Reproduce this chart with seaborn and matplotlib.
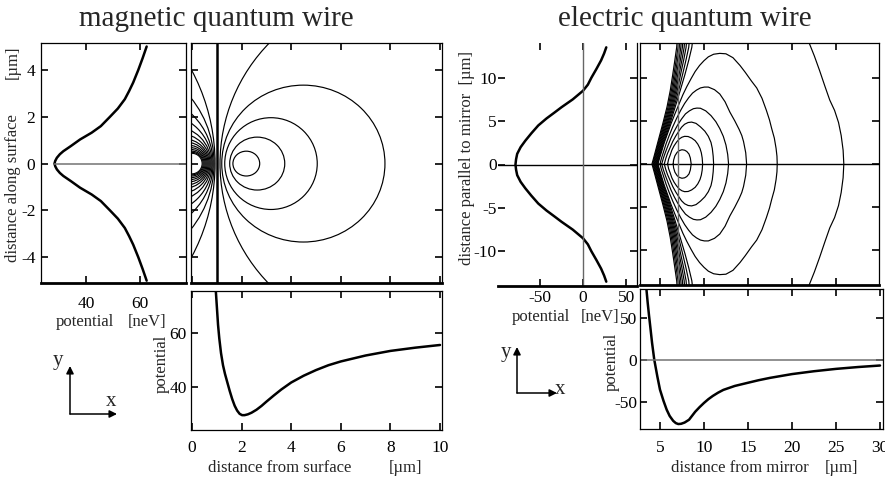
import numpy as np
import matplotlib
matplotlib.use("Agg")
import matplotlib.pyplot as plt
from matplotlib.patches import Ellipse, FancyArrowPatch
import seaborn as sns

# ---------------- data ----------------
# magnetic quantum wire: potential [neV] along the surface (through the minimum)
MAG_PROF_Y = [-5.0, -4.5, -4.0, -3.46, -3.1, -2.75, -2.35, -2.0, -1.6, -1.32, -1.03,
              -0.75, -0.53, -0.4, -0.25, -0.12, 0.0, 0.12, 0.25, 0.4, 0.53, 0.75,
              1.03, 1.32, 1.6, 2.0, 2.35, 2.75, 3.1, 3.46, 4.0, 4.5, 5.0]
MAG_PROF_V = [62.5, 61.0, 59.4, 57.5, 56.0, 54.4, 51.8, 48.9, 45.5, 42.1, 37.8,
              34.4, 31.6, 30.3, 29.2, 28.6, 28.3, 28.6, 29.2, 30.3, 31.6, 34.4,
              37.8, 42.1, 45.5, 48.9, 51.8, 54.4, 56.0, 57.5, 59.4, 61.0, 62.5]
# magnetic quantum wire: potential [neV] vs distance from surface [um]
MAG_X = [0.95, 1.0, 1.05, 1.1, 1.17, 1.25, 1.33, 1.42, 1.52, 1.62, 1.72, 1.82, 1.92,
         2.02, 2.12, 2.25, 2.4, 2.6, 2.8, 3.0, 3.3, 3.6, 4.0, 4.5, 5.0, 5.5, 6.0,
         7.0, 8.0, 9.0, 10.0]
MAG_V = [77.0, 70.0, 63.0, 58.0, 52.5, 48.0, 44.8, 41.8, 38.5, 35.5, 33.0, 31.2, 30.0,
         29.5, 29.5, 29.8, 30.4, 31.5, 32.9, 34.5, 36.8, 39.0, 41.6, 44.1, 46.2, 48.0,
         49.4, 51.6, 53.3, 54.5, 55.5]
# magnetic contour map
MC_WIRE_X = 1.0
MC_RING_XL = [1.65, 1.52, 1.32, 1.20]
MC_RING_XR = [2.73, 3.74, 5.05, 7.78]
MC_RING_HALF = [0.53, 1.13, 1.96, 3.35]
# open arcs: crossing of y=0 and one more point on the arc
MC_ARC_X0 = [1.13, 0.93, 0.89, 0.85, 0.81, 0.77, 0.73, 0.69, 0.65, 0.61, 0.57, 0.53,
             0.49, 0.45, 0.41]
MC_ARC_X1 = [3.01, 0.0, 0.0, 0.0, 0.0, 0.0, 0.0, 0.0, 0.0, 0.0, 0.0, 0.0,
             0.0, 0.0, 0.0]
MC_ARC_Y1 = [5.03, 3.96, 2.75, 2.10, 1.70, 1.39, 1.17, 1.00, 0.88, 0.77, 0.68, 0.60,
             0.53, 0.48, 0.44]

# electric quantum wire: potential [neV] along the mirror (through the minimum)
EL_Y = [-13.5, -12.8, -12.0, -11.0, -10.0, -9.2, -8.5, -7.5, -6.6, -6.0, -5.3, -4.5,
        -3.6, -2.75, -2.0, -1.23, -0.6, 0.0, 0.6, 1.23, 2.0, 2.75, 3.6, 4.5, 5.3,
        6.0, 6.6, 7.5, 8.5, 9.2, 10.0, 11.0, 12.0, 12.8, 13.5]
EL_V = [27.0, 24.5, 21.0, 15.5, 9.7, 5.6, 0.0, -12.0, -25.0, -33.0, -42.5, -52.0,
        -60.0, -67.0, -72.5, -76.5, -77.8, -78.5, -77.8, -76.5, -72.5, -67.0, -60.0,
        -52.0, -42.5, -33.0, -25.0, -12.0, 0.0, 5.6, 9.7, 15.5, 21.0, 24.5, 27.0]
# electric quantum wire: potential [neV] vs distance from mirror [um]
EB_X = [3.45, 3.6, 3.75, 3.9, 4.1, 4.35, 4.7, 5.0, 5.4, 5.76, 6.1, 6.5, 6.8, 7.08,
        7.4, 7.8, 8.3, 9.0, 9.5, 10.0, 10.5, 11.0, 11.6, 12.2, 13.5, 15.0, 16.2,
        17.5, 20.0, 22.5, 25.0, 27.5, 30.0]
EB_V = [85.0, 68.0, 53.0, 39.0, 20.0, 0.0, -20.0, -35.7, -49.0, -59.5, -67.0, -72.8,
        -75.5, -76.6, -76.3, -74.8, -71.5, -62.0, -56.5, -51.5, -47.0, -43.2, -39.3,
        -36.0, -31.3, -27.5, -24.5, -21.7, -17.2, -13.8, -11.0, -8.8, -7.0]
# electric contour map: upper halves (the map is symmetric about y = 0)
EC_CLOSED_X = [
    [6.5, 6.55, 6.7, 6.95, 7.2, 7.5, 7.8, 8.05, 8.3, 8.45, 8.55],
    [5.87, 5.98, 6.15, 6.35, 6.6, 6.9, 7.2, 7.5, 7.8, 8.2, 8.6, 9.0, 9.3, 9.55, 9.7,
     9.8, 9.85],
    [5.49, 5.65, 5.85, 6.15, 6.45, 6.8, 7.15, 7.45, 7.8, 8.2, 8.6, 9.1, 9.6, 10.1,
     10.5, 10.8, 10.95, 11.05, 11.1],
    [5.2, 5.38, 5.6, 5.9, 6.25, 6.6, 7.0, 7.45, 7.9, 8.35, 8.8, 9.2, 9.6, 10.2, 10.8,
     11.35, 11.8, 12.2, 12.5, 12.7, 12.8],
    [5.0, 5.18, 5.4, 5.7, 6.05, 6.45, 6.9, 7.35, 7.8, 8.25, 8.7, 9.15, 9.6, 10.05,
     10.5, 11.2, 11.8, 12.4, 12.95, 13.5, 14.0, 14.3, 14.5, 14.75, 14.85],
    [4.77, 4.97, 5.2, 5.5, 5.85, 6.25, 6.7, 7.15, 7.6, 8.05, 8.55, 9.0, 9.5, 10.0,
     10.5, 11.1, 11.8, 12.5, 13.3, 14.1, 14.7, 15.4, 16.0, 16.6, 17.1, 17.45, 17.7,
     18.0, 18.2, 18.3, 18.33],
]
EC_CLOSED_Y = [
    [0.0, 0.45, 0.95, 1.35, 1.55, 1.65, 1.6, 1.45, 1.15, 0.7, 0.0],
    [0.0, 0.55, 1.0, 1.6, 2.1, 2.55, 2.9, 3.1, 3.2, 3.18, 3.0, 2.7, 2.3, 1.8, 1.3,
     0.7, 0.0],
    [0.0, 0.6, 1.2, 1.9, 2.6, 3.25, 3.8, 4.25, 4.6, 4.8, 4.85, 4.7, 4.3, 3.8, 3.2,
     2.5, 1.8, 0.9, 0.0],
    [0.0, 0.65, 1.3, 2.1, 3.0, 3.75, 4.5, 5.2, 5.8, 6.15, 6.4, 6.47, 6.45, 6.15, 5.6,
     4.9, 4.1, 3.2, 2.2, 1.1, 0.0],
    [0.0, 0.7, 1.4, 2.35, 3.3, 4.3, 5.3, 6.2, 7.0, 7.65, 8.2, 8.55, 8.8, 8.9, 8.9,
     8.6, 8.1, 7.2, 6.0, 5.0, 4.0, 3.3, 2.6, 1.3, 0.0],
    [0.0, 0.75, 1.5, 2.5, 3.5, 4.65, 5.8, 6.9, 8.0, 8.95, 9.9, 10.7, 11.4, 11.95,
     12.4, 12.7, 12.8, 12.75, 12.3, 11.4, 10.6, 9.6, 8.8, 7.6, 6.2, 5.1, 4.1, 3.0,
     1.8, 0.9, 0.0],
]
EC_OPEN_Y = [0.0, 1.0, 2.0, 3.3, 4.7, 6.6, 8.5, 10.4, 12.0, 13.5, 14.2]
EC_OPEN_X = [
    [4.09, 4.36, 4.62, 4.96, 5.33, 5.80, 6.17, 6.46, 6.69, 6.90, 6.95],
    [4.18, 4.44, 4.70, 5.05, 5.43, 5.92, 6.30, 6.60, 6.84, 7.05, 7.10],
    [4.26, 4.52, 4.78, 5.14, 5.53, 6.04, 6.43, 6.74, 6.99, 7.20, 7.25],
    [4.34, 4.60, 4.86, 5.23, 5.63, 6.15, 6.56, 6.88, 7.15, 7.37, 7.42],
    [4.42, 4.68, 4.94, 5.32, 5.73, 6.26, 6.69, 7.03, 7.31, 7.55, 7.60],
    [4.50, 4.76, 5.02, 5.41, 5.83, 6.37, 6.82, 7.18, 7.49, 7.75, 7.80],
    [4.57, 4.84, 5.10, 5.50, 5.93, 6.48, 6.96, 7.35, 7.69, 7.97, 8.02],
    [4.64, 4.91, 5.18, 5.60, 6.04, 6.60, 7.12, 7.58, 7.95, 8.27, 8.33],
    [4.71, 4.99, 5.27, 5.70, 6.15, 6.73, 7.30, 7.85, 8.27, 8.62, 8.70],
]
EC_ARC_X = [25.9, 25.82, 25.6, 25.3, 24.85, 24.3, 23.75, 23.15, 22.55, 22.0, 21.9]
EC_ARC_Y = [0.0, 1.6, 3.3, 4.8, 6.2, 7.4, 9.0, 10.8, 12.5, 13.9, 14.2]

# ---------------- figure ----------------
sns.set_style("ticks")
plt.rcParams['font.family'] = ['Liberation Serif', 'DejaVu Serif']
plt.rcParams['axes.unicode_minus'] = False

W, H = 885, 484
fig = plt.figure(figsize=(W / 100, H / 100), dpi=100)


def box(x0, y0, x1, y1):
    return fig.add_axes([x0 / W, 1 - y1 / H, (x1 - x0) / W, (y1 - y0) / H])


def style(ax, xlim, ylim, xt, yt, lab_x, lab_y, padx=4, pady=3, bottom_lw=0.9):
    ax.set_xlim(*xlim)
    ax.set_ylim(*ylim)
    ax.set_xticks(xt)
    ax.set_yticks(yt)
    ax.tick_params(direction='in', top=True, right=True, bottom=True, left=True,
                   length=5, width=1.2, labelsize=12.5, colors='k')
    ax.tick_params(axis='x', pad=padx, labelbottom=lab_x)
    ax.tick_params(axis='y', pad=pady, labelleft=lab_y)
    for s in ax.spines.values():
        s.set_color('k')
        s.set_linewidth(0.9)
    ax.spines['bottom'].set_linewidth(bottom_lw)
    ax.set_xlabel('')
    ax.set_ylabel('')


def ftext(x, y, s, size=12, rot=0, **kw):
    fig.text(x / W, 1 - y / H, s, ha='center', va='center', fontsize=size,
             rotation=rot, **kw)


def px_ratio(ax):
    pos = ax.get_position()
    x0, x1 = ax.get_xlim()
    y0, y1 = ax.get_ylim()
    return (pos.height * H / (y1 - y0)) / (pos.width * W / (x1 - x0))


def mirrored_closed(hx, hy):
    return hx + hx[-2::-1], hy + [-v for v in hy[-2::-1]]


def mirrored_open(hx, hy):
    return hx[::-1] + hx[1:], hy[::-1] + [-v for v in hy[1:]]


ax_ml = box(41, 43, 186, 283)
ax_mc = box(191, 43, 442, 283)
ax_mb = box(191, 291, 442, 430)
ax_el = box(498, 43, 637, 286)
ax_ec = box(640, 43, 879, 285)
ax_eb = box(640, 289, 883, 429)

LW_C = 0.85

# --- magnetic: profile along surface
sns.lineplot(x=MAG_PROF_V, y=MAG_PROF_Y, sort=False, estimator=None, color='k',
             lw=1.8, ax=ax_ml)
style(ax_ml, (23.3, 77.1), (-5.1, 5.15), [40, 60], [-4, -2, 0, 2, 4], True, True,
      padx=9, pady=4, bottom_lw=2.0)
ax_ml.hlines(0, min(MAG_PROF_V), ax_ml.get_xlim()[1], color='0.45', lw=1.1)

# --- magnetic: contour map
style(ax_mc, (-0.04, 10.08), (-5.1, 5.15), [0, 2, 4, 6, 8, 10], [-4, -2, 0, 2, 4],
      False, False, bottom_lw=2.0)
ax_mc.axvline(MC_WIRE_X, color='k', lw=1.8)
for xl, xr, h in zip(MC_RING_XL, MC_RING_XR, MC_RING_HALF):
    ax_mc.add_patch(Ellipse(((xl + xr) / 2, 0), xr - xl, 2 * h, fill=False,
                            ec='k', lw=LW_C))
q = px_ratio(ax_mc)
for x0, x1, y1 in zip(MC_ARC_X0, MC_ARC_X1, MC_ARC_Y1):
    yq = y1 * q
    cx = (x1 ** 2 + yq ** 2 - x0 ** 2) / (2 * (x1 - x0))
    r = abs(x0 - cx)
    ax_mc.add_patch(Ellipse((cx, 0), 2 * r, 2 * r / q, fill=False, ec='k', lw=LW_C))

# --- magnetic: potential vs distance from surface
sns.lineplot(x=MAG_X, y=MAG_V, sort=False, estimator=None, color='k', lw=1.8, ax=ax_mb)
style(ax_mb, (-0.04, 10.08), (24, 75.5), [0, 2, 4, 6, 8, 10], [40, 60], True, True,
      padx=7, pady=3)

# --- electric: profile along mirror
sns.lineplot(x=EL_V, y=EL_Y, sort=False, estimator=None, color='k', lw=1.8, ax=ax_el)
style(ax_el, (-98.8, 62.7), (-14, 14), [-50, 0, 50], [-10, -5, 0, 5, 10], True, True,
      padx=3, pady=1, bottom_lw=2.0)
ax_el.spines['left'].set_visible(False)
ax_el.spines['top'].set_visible(False)
ax_el.axhline(0, color='k', lw=1.0)
ax_el.axvline(0, color='0.4', lw=1.0)

# --- electric: contour map
for hx, hy in zip(EC_CLOSED_X, EC_CLOSED_Y):
    xs, ys = mirrored_closed(hx, hy)
    sns.lineplot(x=xs, y=ys, sort=False, estimator=None, color='k', lw=LW_C, ax=ax_ec)
for hx in EC_OPEN_X + [EC_ARC_X]:
    hy = EC_ARC_Y if hx is EC_ARC_X else EC_OPEN_Y
    xs, ys = mirrored_open(hx, hy)
    sns.lineplot(x=xs, y=ys, sort=False, estimator=None, color='k', lw=LW_C, ax=ax_ec)
style(ax_ec, (2.73, 29.9), (-14, 14), [5, 10, 15, 20, 25], [-10, -5, 0, 5, 10],
      False, False, bottom_lw=2.0)
ax_ec.axhline(0, color='k', lw=1.0)
ax_ec.axvline(EB_X[int(np.argmin(EB_V))], color='0.4', lw=1.0)

# --- electric: potential vs distance from mirror
sns.lineplot(x=EB_X, y=EB_V, sort=False, estimator=None, color='k', lw=1.8, ax=ax_eb)
style(ax_eb, (2.73, 30.34), (-82.5, 84), [5, 10, 15, 20, 25, 30], [-50, 0, 50],
      True, True, padx=8, pady=2)
ax_eb.axhline(0, color='0.45', lw=1.1)

# ---------------- texts ----------------
ftext(216, 19, "magnetic quantum wire", size=21)
ftext(685, 19, "electric quantum wire", size=21)

ftext(13, 188, "distance along surface", rot=90)
ftext(13, 62, "[\u00b5m]", rot=90)
ftext(85, 322, "potential")
ftext(147, 322, "[neV]")
ftext(280, 468, "distance from surface")
ftext(405, 468, "[\u00b5m]")
ftext(162, 364, "potential", rot=90)

ftext(467, 158, "distance parallel to mirror  [\u00b5m]", rot=90)
ftext(541, 317, "potential")
ftext(600, 317, "[neV]")
ftext(612, 362, "potential", rot=90)
ftext(740, 468, "distance from mirror")
ftext(841, 468, "[\u00b5m]")

# coordinate arrows
for (ox, oy, vy, hx_, tx, ty, lx, ly) in [(70, 414, 366, 117, 58, 360, 111, 401),
                                          (517, 393, 347, 557, 506, 352, 560, 390)]:
    for tgt in [(ox, vy), (hx_, oy)]:
        fig.add_artist(FancyArrowPatch((ox / W, 1 - oy / H), (tgt[0] / W, 1 - tgt[1] / H),
                                       transform=fig.transFigure, arrowstyle='-|>',
                                       mutation_scale=11, lw=1.1, color='k',
                                       shrinkA=0, shrinkB=0))
    ftext(tx, ty, "y", size=15)
    ftext(lx, ly, "x", size=15)

fig.savefig("out.png", dpi=100)
